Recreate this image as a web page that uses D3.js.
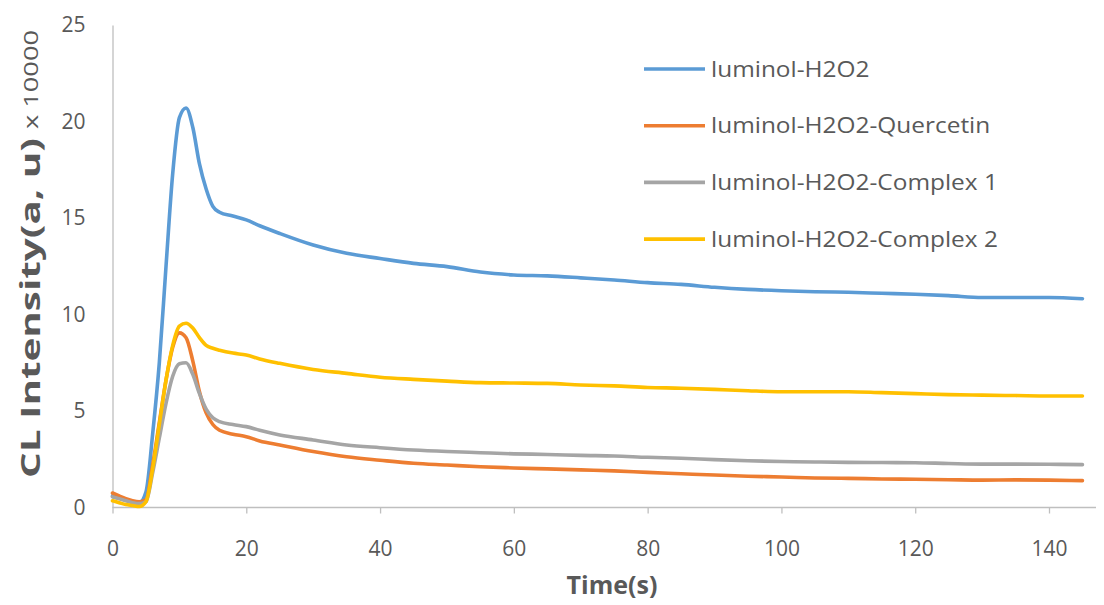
<!DOCTYPE html>
<html>
<head>
<meta charset="utf-8">
<script src="https://cdn.jsdelivr.net/npm/d3@7"></script>
<style>
  html, body { margin: 0; padding: 0; background: #fff; }
  svg { display: block; }
</style>
</head>
<body>
<svg id="chart" width="1104" height="605"></svg>
<script>
// Sampling times (s)
const times = [0,1,2,3,4,5,6,7,8,9,10,11,12,13,14,15,16,18,20,22,25,30,35,40,45,50,55,60,65,70,75,80,85,90,95,100,105,110,115,120,125,130,135,140,145];

// CL intensity (a.u. x 10000) for each system
const luminolH2O2 = [0.6,0.5,0.4,0.3,0.25,0.8,3.8,7.5,12.5,17.3,20.2,20.7,19.7,17.8,16.5,15.6,15.3,15.1,14.9,14.6,14.2,13.6,13.17,12.9,12.65,12.48,12.2,12.05,12.0,11.9,11.79,11.65,11.56,11.41,11.3,11.23,11.18,11.15,11.1,11.05,10.98,10.88,10.88,10.88,10.82];
const luminolH2O2Quercetin = [0.75,0.6,0.45,0.35,0.3,0.4,2.2,4.4,6.6,8.3,9.05,8.8,7.6,6.0,4.9,4.3,4.0,3.8,3.67,3.45,3.24,2.9,2.63,2.45,2.29,2.2,2.11,2.05,2.0,1.95,1.9,1.82,1.75,1.68,1.62,1.58,1.53,1.51,1.48,1.46,1.44,1.42,1.43,1.42,1.39];
const luminolH2O2Complex1 = [0.55,0.45,0.35,0.25,0.2,0.3,1.8,3.6,5.4,6.8,7.45,7.5,6.9,5.9,5.1,4.65,4.45,4.3,4.19,4.0,3.76,3.5,3.24,3.1,2.98,2.9,2.84,2.78,2.75,2.7,2.67,2.6,2.55,2.48,2.42,2.38,2.36,2.34,2.33,2.32,2.28,2.25,2.25,2.24,2.22];
const luminolH2O2Complex2 = [0.35,0.25,0.15,0.1,0.05,0.3,2.0,4.3,6.6,8.4,9.4,9.55,9.3,8.8,8.4,8.25,8.15,8.0,7.9,7.7,7.47,7.15,6.95,6.75,6.64,6.55,6.47,6.45,6.43,6.35,6.3,6.22,6.18,6.12,6.05,6.0,6.0,6.0,5.95,5.9,5.85,5.82,5.8,5.78,5.78];

const seriesNames = ["luminol-H2O2", "luminol-H2O2-Quercetin", "luminol-H2O2-Complex 1", "luminol-H2O2-Complex 2"];
const seriesValues = [luminolH2O2, luminolH2O2Quercetin, luminolH2O2Complex1, luminolH2O2Complex2];
const seriesColors = ["#5b9bd5", "#ed7d31", "#a5a5a5", "#ffc000"];

const xTicks = [0, 20, 40, 60, 80, 100, 120, 140];
const yTicks = [0, 5, 10, 15, 20, 25];

const svg = d3.select("#chart");

const x = d3.scaleLinear().domain([0, 140]).range([112.5, 1049]);
const y = d3.scaleLinear().domain([0, 25]).range([507.5, 25]);

const tickFont = "'Open Sans', sans-serif";
const textGray = "#595959";
const axisGray = "#bfbfbf";

// Y axis: line only, labels on the left
const yAxis = svg.append("g")
  .attr("transform", `translate(${x(0)},0)`)
  .call(d3.axisLeft(y).tickValues(yTicks).tickSize(0).tickPadding(27).tickFormat(d3.format("d")));
yAxis.select(".domain").attr("stroke", axisGray).attr("stroke-width", 1.3);
yAxis.selectAll("text")
  .attr("font-family", tickFont).attr("font-size", 21).attr("fill", textGray);

// X axis with downward ticks
const xAxis = svg.append("g")
  .attr("transform", `translate(0,${y(0)})`)
  .call(d3.axisBottom(x).tickValues(xTicks).tickSize(6).tickSizeOuter(0).tickPadding(28).tickFormat(d3.format("d")));
xAxis.select(".domain").remove();
xAxis.append("line")
  .attr("x1", x(0)).attr("x2", 1096).attr("y1", 0).attr("y2", 0)
  .attr("stroke", axisGray).attr("stroke-width", 1.3);
xAxis.selectAll(".tick line").attr("stroke", axisGray).attr("stroke-width", 1.3);
xAxis.selectAll("text")
  .attr("font-family", tickFont).attr("font-size", 21).attr("fill", textGray);

// Series lines, smoothed
const line = d3.line()
  .x((d, i) => x(times[i]))
  .y(d => y(d))
  .curve(d3.curveMonotoneX);

svg.append("g").selectAll("path")
  .data(seriesValues)
  .join("path")
  .attr("d", d => line(d))
  .attr("fill", "none")
  .attr("stroke", (d, i) => seriesColors[i])
  .attr("stroke-width", 3.6)
  .attr("stroke-linejoin", "round")
  .attr("stroke-linecap", "round");

// Legend
const legend = svg.append("g");
seriesNames.forEach((name, i) => {
  const ly = 69 + i * 56.7;
  legend.append("line")
    .attr("x1", 644).attr("x2", 705).attr("y1", ly).attr("y2", ly)
    .attr("stroke", seriesColors[i]).attr("stroke-width", 3.6);
  legend.append("text")
    .attr("transform", `translate(711,${ly}) scale(1.11,1)`)
    .attr("dy", "0.35em")
    .attr("font-family", tickFont).attr("font-size", 22)
    .attr("fill", textGray).text(name);
});

// Axis titles
svg.append("text")
  .attr("x", 612).attr("y", 594)
  .attr("text-anchor", "middle")
  .attr("font-family", tickFont).attr("font-size", 25).attr("font-weight", "bold")
  .attr("fill", textGray).text("Time(s)");

svg.append("text")
  .attr("transform", "translate(40,478) rotate(-90)")
  .attr("font-family", tickFont).attr("font-size", 26).attr("font-weight", "bold")
  .attr("textLength", 340).attr("lengthAdjust", "spacingAndGlyphs")
  .attr("fill", textGray).text("CL Intensity(a, u)");
svg.append("text")
  .attr("transform", "translate(38,129) rotate(-90)")
  .attr("font-family", tickFont).attr("font-size", 20)
  .attr("textLength", 99).attr("lengthAdjust", "spacingAndGlyphs")
  .attr("fill", textGray).text("x 10000");
</script>
</body>
</html>
